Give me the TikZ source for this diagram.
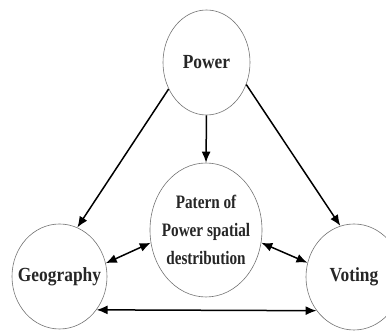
\documentclass[tikz,border=0pt]{standalone}
\usepackage{fontspec}
\usetikzlibrary{shapes.geometric,arrows.meta}
\newfontfamily\bigfont[FakeStretch=0.87]{Liberation Serif}
\newfontfamily\smallfont[FakeStretch=0.8]{Liberation Serif}
\tikzset{
    bubble/.style={draw=black!55, line width=0.6pt, ellipse, inner sep=0pt},
    bigword/.style={font=\bigfont\bfseries\fontsize{20}{24}\selectfont, text=black!85},
    smallword/.style={font=\smallfont\bfseries\fontsize{19}{28}\selectfont, text=black!85, align=center},
    link/.style={line width=1.5pt, -{Latex[length=11pt,width=9pt]}},
    twoway/.style={line width=1.5pt, {Latex[length=11pt,width=9pt]}-{Latex[length=11pt,width=9pt]}}
}
\begin{document}
\begin{tikzpicture}[x=1pt,y=1pt]
        \useasboundingbox (0,0) rectangle (386,331);
        \node (pow) at (206.5,268.5)[bubble, minimum width=87pt, minimum height=105pt] {};
        \node (cen) at (206,101)[bubble, minimum width=112pt, minimum height=134pt] {};
        \node (geo) at (59.5,54.5)[bubble, minimum width=95pt, minimum height=105pt] {};
        \node (vot) at (354,54)[bubble, minimum width=96pt, minimum height=106pt] {};
        \node (powtext) at (pow)[bigword] {Power};
        \node (centext) at (cen)[smallword] {Patern of\\Power spatial\\destribution};
        \node (geotext) at (geo)[bigword] {Geography};
        \node (vottext) at (vot)[bigword] {Voting};
        \draw[link] (pow.215) -- (geo.70);
        \draw[link] (pow.-29) -- (vot.105);
        \draw[link] (pow.south) -- (cen.north);
        \draw[twoway] (cen.193) -- (geo.16);
        \draw[twoway] (cen.-13) -- (vot.163);
        \draw[twoway] (geo.-42) -- (vot.222);
    \end{tikzpicture}
\end{document}
